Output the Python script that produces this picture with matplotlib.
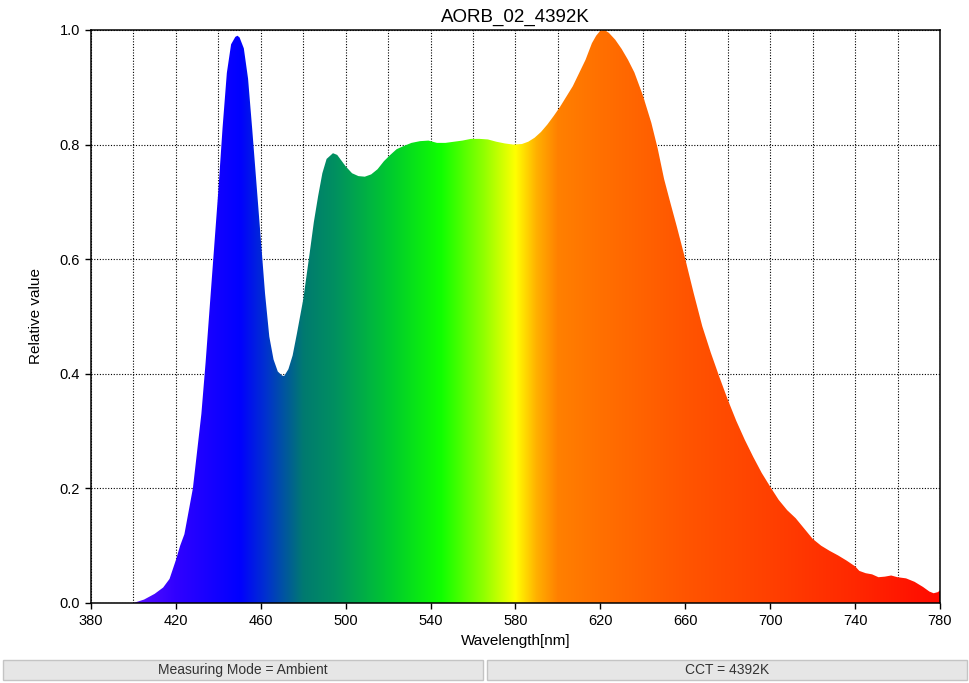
import numpy as np
import matplotlib
matplotlib.use("Agg")
import matplotlib.pyplot as plt
from matplotlib.patches import Polygon, Rectangle
from matplotlib.ticker import MultipleLocator, FixedLocator

plt.rcParams['font.family'] = ['Liberation Sans', 'DejaVu Sans']

# spectrum
wavelength = [400, 405, 410, 414, 417, 420, 422, 424, 426, 428, 430, 432, 434, 436, 438,
              440, 442, 444, 446, 448, 449, 450, 452, 454, 456, 458, 460, 462, 464, 466,
              468, 470, 471, 473, 475, 477, 480, 483, 485, 487, 489, 491, 494, 496, 498,
              500, 503, 506, 509, 512, 515, 518, 521, 524, 527, 531, 535, 539, 543, 547,
              551, 555, 559, 563, 567, 571, 575, 579, 583, 586, 589, 592, 595, 598, 601,
              604, 607, 610, 613, 616, 618, 620, 622, 624, 627, 630, 633, 636, 640, 644,
              647, 650, 653, 656, 660, 664, 668, 672, 676, 680, 684, 688, 692, 696, 700,
              704, 708, 712, 716, 720, 724, 728, 732, 736, 740, 742, 745, 748, 751, 754,
              757, 760, 764, 768, 772, 775, 777, 779, 780]
relative = [0.0, 0.006, 0.016, 0.027, 0.042, 0.075, 0.10, 0.12, 0.16, 0.2, 0.265, 0.33, 0.42, 0.52, 0.62,
            0.72, 0.83, 0.925, 0.975, 0.988, 0.99, 0.987, 0.968, 0.915, 0.825, 0.73, 0.635, 0.54, 0.465, 0.425,
            0.404, 0.397, 0.396, 0.408, 0.432, 0.47, 0.53, 0.61, 0.665, 0.71, 0.75, 0.775, 0.785, 0.782, 0.772,
            0.762, 0.75, 0.745, 0.744, 0.748, 0.757, 0.771, 0.782, 0.792, 0.797, 0.803, 0.806, 0.807, 0.803, 0.803,
            0.805, 0.807, 0.81, 0.81, 0.809, 0.805, 0.802, 0.8, 0.801, 0.805, 0.812, 0.822, 0.835, 0.85, 0.866,
            0.884, 0.902, 0.925, 0.948, 0.977, 0.99, 0.999, 1.0, 0.995, 0.983, 0.967, 0.948, 0.926, 0.886, 0.838,
            0.793, 0.74, 0.698, 0.657, 0.6, 0.54, 0.483, 0.437, 0.395, 0.355, 0.318, 0.285, 0.255, 0.227, 0.203,
            0.18, 0.162, 0.148, 0.13, 0.112, 0.1, 0.091, 0.083, 0.074, 0.064, 0.056, 0.052, 0.05, 0.045, 0.046,
            0.048, 0.045, 0.043, 0.037, 0.028, 0.02, 0.017, 0.019, 0.022]

# colour stops of the spectral fill
color_wl = [380, 400, 420, 450, 462, 480, 495, 520, 545, 565, 580, 590, 600, 620, 660, 700, 740, 780]
color_hex = ['#6020ff', '#5a10ff', '#3000ff', '#0000ff', '#0030d0', '#007a70', '#009060', '#00c830',
             '#10ff00', '#90ff00', '#ffff00', '#ffb000', '#ff8000', '#ff7000', '#ff5500', '#ff4000',
             '#ff2800', '#ff0a00']

x_ticks = [380, 420, 460, 500, 540, 580, 620, 660, 700, 740, 780]
title = "AORB_02_4392K"
footer = ["Measuring Mode = Ambient", "CCT = 4392K"]


def spectrum_strip(n=800):
    wl = np.linspace(380, 780, n)
    rgb = np.array([matplotlib.colors.to_rgb(c) for c in color_hex])
    strip = np.stack([np.interp(wl, color_wl, rgb[:, k]) for k in range(3)], axis=-1)
    return strip[np.newaxis, :, :]


fig = plt.figure(figsize=(9.70, 6.83), dpi=100)
ax = fig.add_axes([91 / 970, 1 - 603 / 683, 849 / 970, 573 / 683])

verts = [(wavelength[0], 0)] + list(zip(wavelength, relative)) + [(wavelength[-1], 0)]
outline = Polygon(verts, closed=True, facecolor='none', edgecolor='none')
ax.add_patch(outline)
im = ax.imshow(spectrum_strip(), extent=[380, 780, 0, 1], aspect='auto',
               origin='lower', interpolation='bilinear', zorder=2)
im.set_clip_path(outline)

ax.set_xlim(380, 780)
ax.set_ylim(0, 1)
ax.xaxis.set_major_locator(FixedLocator(x_ticks))
ax.xaxis.set_minor_locator(MultipleLocator(20))
ax.yaxis.set_major_locator(MultipleLocator(0.2))
ax.yaxis.set_major_formatter(matplotlib.ticker.FormatStrFormatter('%.1f'))
ax.tick_params(which='major', direction='out', length=4, width=1, labelsize=10.5, pad=4)
ax.tick_params(which='minor', length=0)
ax.grid(True, which='both', axis='x', color='black', linestyle=(0, (1, 1.5)), linewidth=0.8, zorder=1)
ax.grid(True, which='major', axis='y', color='black', linestyle=(0, (1, 1.5)), linewidth=0.8, zorder=1)
ax.set_axisbelow(True)
for s in ax.spines.values():
    s.set_linewidth(1.1)
    s.set_zorder(5)

ax.set_title(title, fontsize=13.5, pad=6)
ax.set_xlabel("Wavelength[nm]", fontsize=11, labelpad=4)
ax.set_ylabel("Relative value", fontsize=11, labelpad=12)

# status bar boxes under the chart
for i, txt in enumerate(footer):
    x0 = (3 if i == 0 else 487) / 970
    box = Rectangle((x0, 3 / 683), 480 / 970, 20 / 683, transform=fig.transFigure,
                    facecolor='#e6e6e6', edgecolor='#c4c4c4', linewidth=1)
    fig.patches.append(box)
    fig.text(x0 + 240 / 970, 13 / 683, txt, ha='center', va='center', fontsize=10, color='#333333')

fig.savefig('out.png', dpi=100)
